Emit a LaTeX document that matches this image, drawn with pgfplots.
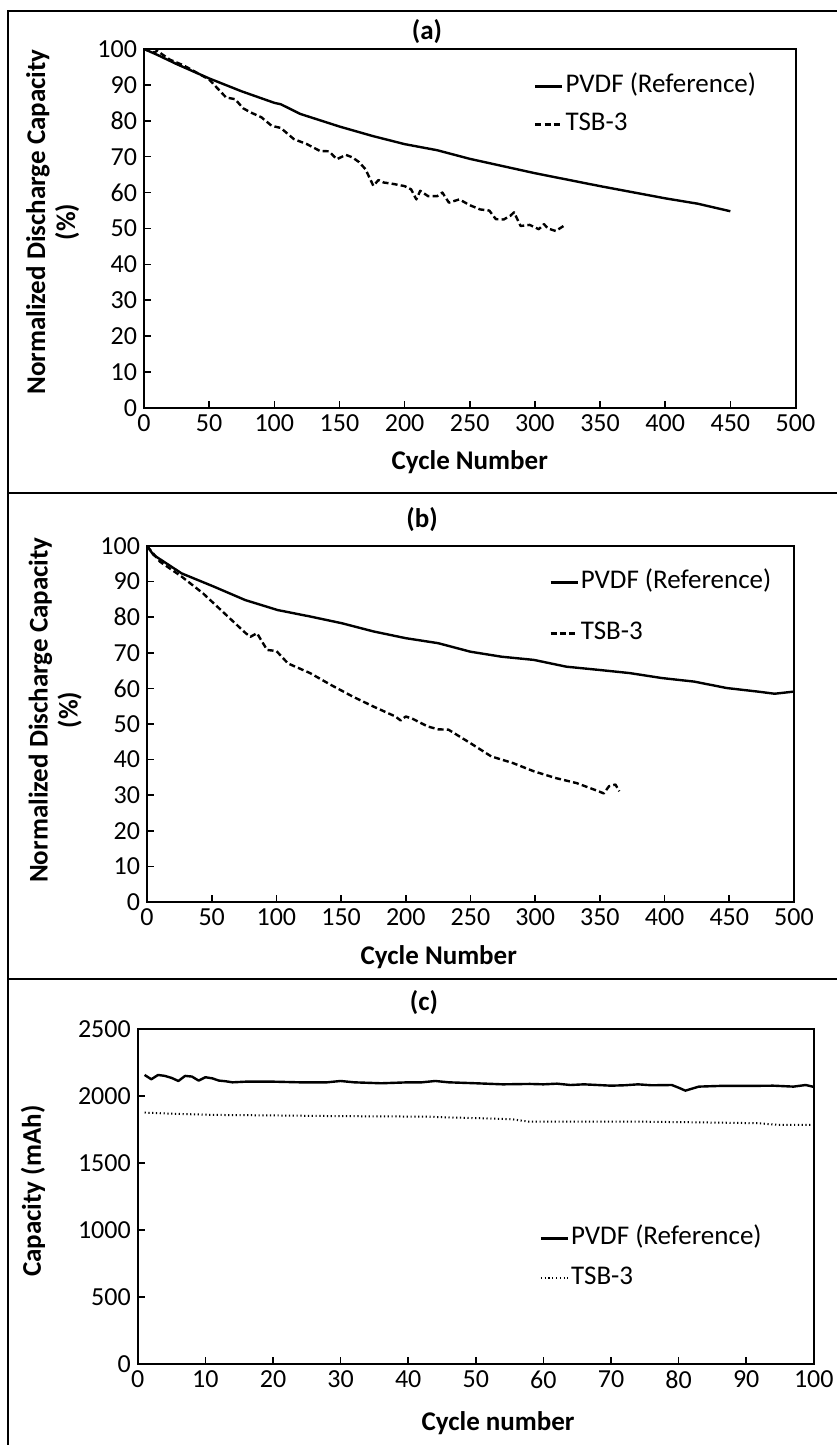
\documentclass[border=0pt]{standalone}
\usepackage{fontspec}
\setmainfont{Carlito}
\usepackage{pgfplots}
\pgfplotsset{compat=1.18}
\pgfplotsset{
  /pgf/number format/assume math mode=true,
  /pgf/number format/1000 sep={},
  panel/.style={
    scale only axis, anchor=south west,
    axis line style={line width=1pt},
    tick align=inside, xtick pos=bottom, ytick pos=left,
    major tick length=3.5pt,
    tick style={line width=0.8pt, black},
    tick label style={font=\fontsize{13}{15}\selectfont},
    label style={font=\fontsize{13.5}{15}\selectfont\bfseries},
    ylabel style={anchor=center, align=center},
    xlabel style={anchor=center},
    legend style={draw=none, fill=none, font=\fontsize{13.5}{15}\selectfont,
      anchor=north west, nodes={inner sep=1pt, text height=9pt, text depth=3pt},
      column sep=0pt},
    legend cell align=left,
    legend image code/.code={\draw[#1] (0pt,0pt) -- (13.5pt,0pt);},
  },
  pvdf/.style={black, solid, line width=1.2pt, mark=none, line join=round},
  dashedTSB/.style={black, line width=1.2pt, mark=none, line join=round, dash pattern=on 3pt off 1.6pt},
  dottedTSB/.style={black, line width=1pt, mark=none, dash pattern=on 0.6pt off 1.3pt},
}
\begin{document}
\begin{tikzpicture}
\useasboundingbox (0,0) rectangle (418.5pt,722.5pt);
% panel frames
\draw[line width=0.7pt] (4pt,0pt) -- (4pt,717pt) -- (418.5pt,717pt);
\draw[line width=1.1pt] (4pt,476pt) -- (418.5pt,476pt);
\draw[line width=1.1pt] (4pt,233pt) -- (418.5pt,233pt);
\node[font=\fontsize{13.5}{15}\selectfont\bfseries] at (213.5pt,706.5pt) {(a)};
\node[font=\fontsize{13.5}{15}\selectfont\bfseries] at (211pt,462.5pt) {(b)};
\node[font=\fontsize{13.5}{15}\selectfont\bfseries] at (212pt,221pt) {(c)};

% ---------------- (a)
\begin{axis}[panel, at={(72pt,518.5pt)}, width=325.75pt, height=179.5pt,
  xmin=0, xmax=500, ymin=0, ymax=100,
  xtick={0,50,...,500}, ytick={0,10,...,100},
  xlabel={Cycle Number}, ylabel={Normalized Discharge Capacity\\(\%)},
  xlabel style={at={(axis description cs:0.5,-0.150)}},
  ylabel style={at={(axis description cs:-0.140,0.518)}},
  legend style={at={(axis description cs:0.589,0.947)}, row sep=5pt}]
\addplot[pvdf] coordinates {
(0,100) (10,98.4) (25,95.8) (50,91.8) (75,88.2) (100,85.0) (105,84.6) (120,81.9)
(150,78.4) (175,75.8) (200,73.5) (225,71.8) (250,69.4) (275,67.4) (300,65.4)
(325,63.6) (350,61.8) (375,60.1) (400,58.4) (425,56.9) (450,54.8)};
\addlegendentry{PVDF (Reference)}
\addplot[dashedTSB] coordinates {
(0,100) (8,99) (10,99.5) (20,97) (30,95.5) (40,93.5) (50,91.5) (57,88.8) (63,86.5)
(70,86) (76,83.5) (82,82.3) (90,81) (98,78.6) (105,78) (115,74.9) (125,73.5)
(135,71.6) (142,71.5) (148,69.3) (155,70.5) (160,69.8) (165,68.5) (170,66.5)
(176,61.9) (180,63.5) (184,62.8) (190,62.5) (200,61.8) (205,60.9) (209,58.1)
(212,60.5) (218,59) (225,59) (229,60) (234,57.2) (242,58.1) (250,56.5) (258,55.3)
(265,55) (270,52.6) (276,52.5) (281,53.5) (284,54.5) (289,50.7) (296,51)
(303,49.8) (307,51.2) (310,50) (316,49.3) (322,50.7)};
\addlegendentry{TSB-3}
\end{axis}

% ---------------- (b)
\begin{axis}[panel, at={(73.5pt,271.5pt)}, width=323.5pt, height=178pt,
  xmin=0, xmax=500, ymin=0, ymax=100,
  xtick={0,50,...,500}, ytick={0,10,...,100},
  xlabel={Cycle Number}, ylabel={Normalized Discharge Capacity\\(\%)},
  xlabel style={at={(axis description cs:0.451,-0.154)}},
  ylabel style={at={(axis description cs:-0.142,0.539)}},
  legend style={at={(axis description cs:0.612,0.949)}, row sep=11.5pt}]
\addplot[pvdf] coordinates {
(0,100) (5,97.5) (10,96.3) (26.8,92.3) (51.6,88.6) (76,84.8) (101,82) (126,80.2)
(150.6,78.3) (175,76) (200,74.1) (225,72.7) (250,70.3) (274,68.9) (299,68)
(324,66.1) (349,65.2) (373,64.3) (398,62.9) (423,61.9) (448,60.1) (472,59.1)
(485,58.5) (500,59.1)};
\addlegendentry{PVDF (Reference)}
\addplot[dashedTSB] coordinates {
(0,100) (10,95.6) (26.8,91.4) (43.3,86.7) (59.8,81.1) (76.3,75.5) (80,74.5)
(85,75.5) (92.8,70.8) (100,70.5) (109,67) (126,64.3) (142,61) (159,57.7)
(175,54.9) (192,52.1) (196,51) (200,52.1) (205,51.5) (217,49.3) (225,48.5)
(233,48.4) (250,44.6) (266,40.9) (283,39) (299,36.7) (316,34.8) (332,33.4)
(349,31.1) (353,30.5) (357,32.5) (362,33) (365,31.1)};
\addlegendentry{TSB-3}
\end{axis}

% ---------------- (c)
\begin{axis}[panel, at={(68.9pt,40.5pt)}, width=338pt, height=167.5pt,
  xmin=0, xmax=100, ymin=0, ymax=2500,
  xtick={0,10,...,100}, ytick={0,500,...,2500},
  xlabel={Cycle number}, ylabel={Capacity (mAh)},
  xlabel style={at={(axis description cs:0.533,-0.176)}},
  ylabel style={at={(axis description cs:-0.155,0.516)}},
  legend style={at={(axis description cs:0.585,0.430)}, row sep=6pt}]
\addplot[pvdf] coordinates {
(1,2157) (2,2125) (3,2157) (4,2150) (5,2135) (6,2112) (7,2150) (8,2145) (9,2115)
(10,2140) (11,2132) (12,2115) (13,2110) (14,2102) (16,2107) (20,2107) (24,2102)
(28,2102) (30,2112) (32,2102) (36,2095) (40,2102) (42,2102) (44,2112) (46,2102)
(50,2095) (54,2087) (58,2090) (60,2087) (62,2092) (64,2082) (66,2087) (70,2077)
(72,2080) (74,2087) (76,2080) (79,2082) (80,2062) (81,2040) (83,2070) (86,2075)
(90,2075) (94,2077) (97,2070) (98.8,2082) (100,2068)};
\addlegendentry{PVDF (Reference)}
\addplot[dottedTSB] coordinates {
(1,1876) (5,1868) (11,1859) (20,1855) (27,1851) (35,1848) (42.8,1846) (46,1840)
(50.7,1834) (55.4,1826) (57.8,1809) (66.5,1809) (75,1808) (82,1804) (91.7,1797)
(94.9,1784) (100,1784)};
\addlegendentry{TSB-3}
\end{axis}
\end{tikzpicture}
\end{document}
